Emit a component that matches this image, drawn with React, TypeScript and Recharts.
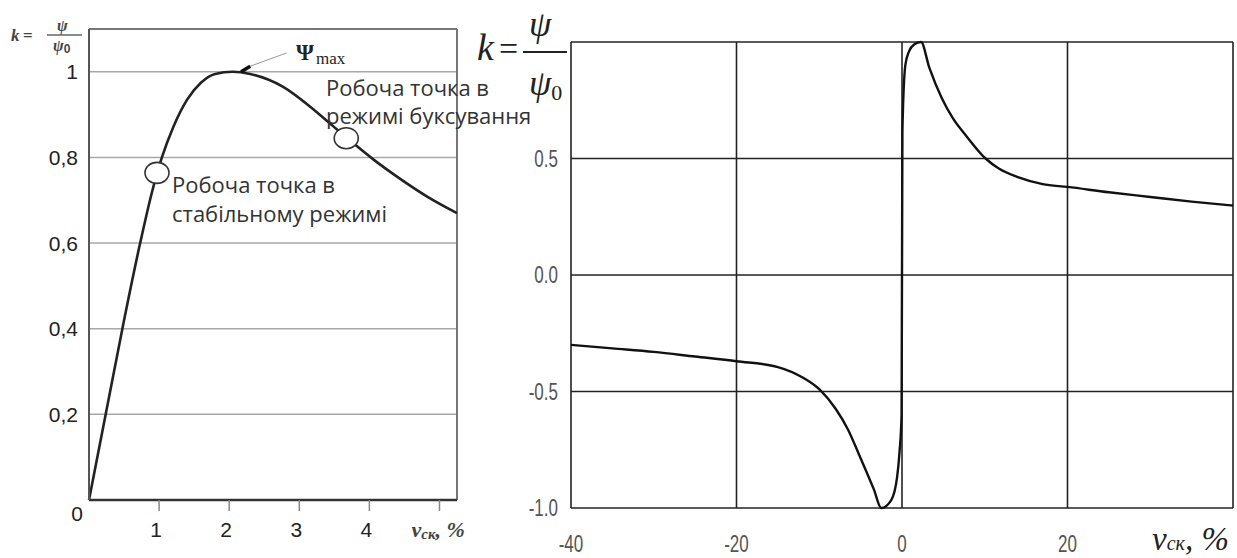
import React from 'react';
import { LineChart, Line, XAxis, YAxis, CartesianGrid, ReferenceLine, ReferenceDot } from 'recharts';

// ---------- Left chart: k = psi/psi0 vs slip (0..5.25 %) ----------
const leftSlip = [0, 0.25, 0.5, 0.73, 0.9, 1.04, 1.2, 1.4, 1.6, 1.8, 2.05, 2.3, 2.77, 3.16, 3.49, 3.67, 4.06, 4.44, 4.83, 5.25];
const leftK = [0, 0.21, 0.42, 0.6, 0.72, 0.8, 0.87, 0.935, 0.975, 0.995, 1.0, 0.995, 0.965, 0.918, 0.872, 0.847, 0.795, 0.75, 0.708, 0.67];
const leftXTicks = [1, 2, 3, 4, 5];
const leftXTickLabels = ['1', '2', '3', '4', ''];
const leftYTicks = [0, 0.2, 0.4, 0.6, 0.8, 1];
const leftYTickLabels = ['0', '0,2', '0,4', '0,6', '0,8', '1'];
const stablePoint = { x: 0.97, k: 0.764 };
const slipPoint = { x: 3.67, k: 0.845 };
const psiMaxArrowFrom = { x: 2.23, k: 1.009 };
const psiMaxArrowTo = { x: 2.82, k: 1.044 };
const psiMaxHeadFrom = { x: 2.17, k: 1.0 };
const psiMaxHeadTo = { x: 2.3, k: 1.013 };

// ---------- Right chart: k vs slip (-40..40 %) ----------
const rightSlip = [-40, -35, -30, -25, -20, -15, -12, -10, -8, -6.5, -5.2, -3.4, -2.5, -1.3, -0.6, -0.3, -0.05, 0.05, 0.4, 0.85, 1.5, 2.3, 3.3, 4.8, 6.2, 7.7, 10.1, 11.7, 14, 17, 20, 25, 30, 35, 40];
const rightK = [-0.3, -0.315, -0.33, -0.35, -0.37, -0.395, -0.44, -0.49, -0.575, -0.665, -0.77, -0.92, -1.0, -0.966, -0.87, -0.76, -0.6, 0.62, 0.9, 0.96, 0.99, 1.0, 0.89, 0.76, 0.67, 0.6, 0.5, 0.457, 0.42, 0.39, 0.378, 0.355, 0.335, 0.315, 0.298];
const rightXTicks = [-40, -20, 0, 20, 40];
const rightXTickLabels = ['-40', '-20', '0', '20', ''];
const rightYTicks = [-1, -0.5, 0, 0.5, 1];
const rightYTickLabels = ['-1.0', '-0.5', '0.0', '0.5', ''];

const leftData = leftSlip.map((x, i) => ({ x, k: leftK[i] }));
const rightData = rightSlip.map((x, i) => ({ x, k: rightK[i] }));

const SANS = "'Liberation Sans', Arial, sans-serif";
const SERIF = "'Liberation Serif', 'Times New Roman', serif";
const NOTE = "'Open Sans', 'Noto Sans', sans-serif";

const LeftXTick = (props: any) => {
  const { x, y, payload } = props;
  if (payload.value === 5) {
    return (
      <svg x={x - 28} y={y - 4} width={470 - (x - 28)} height={40} overflow="hidden">
        <text x={0} y={28} fontFamily={SERIF} fontStyle="italic" fontWeight="bold" fontSize={22} fill="#444">
          v<tspan fontSize={15} dy={2}>ск</tspan>
          <tspan dy={-2}>, %</tspan>
        </text>
      </svg>
    );
  }
  return (
    <text x={x - 3} y={y + 24} textAnchor="middle" fontFamily={SANS} fontSize={21} fill="#222">
      {leftXTickLabels[leftXTicks.indexOf(payload.value)] ?? ''}
    </text>
  );
};

const LeftYTick = (props: any) => {
  const { x, y, payload } = props;
  const i = leftYTicks.indexOf(payload.value);
  const label = i >= 0 ? leftYTickLabels[i] : '';
  const isZero = payload.value === 0;
  return (
    <text x={isZero ? x + 5 : x} y={isZero ? y + 13 : y} dy="0.36em" textAnchor="end" fontFamily={SANS} fontSize={21} fill="#222">
      {label}
    </text>
  );
};

const RightXTick = (props: any) => {
  const { x, y, payload } = props;
  if (payload.value === 40) {
    return (
      <text x={x - 81} y={y + 42} fontFamily={SERIF} fontStyle="italic" fontSize={33} fill="#222">
        v<tspan fontSize={20}>ск</tspan>
        <tspan>, %</tspan>
      </text>
    );
  }
  const i = rightXTicks.indexOf(payload.value);
  return (
    <text transform={`translate(${x},${y + 44}) scale(0.74,1)`} textAnchor="middle" fontFamily={SANS} fontSize={23} fill="#555">
      {i >= 0 ? rightXTickLabels[i] : ''}
    </text>
  );
};

const RightYTick = (props: any) => {
  const { x, y, payload } = props;
  const i = rightYTicks.indexOf(payload.value);
  return (
    <text transform={`translate(${x},${y}) scale(0.74,1)`} dy="0.36em" textAnchor="end" fontFamily={SANS} fontSize={23} fill="#555">
      {i >= 0 ? rightYTickLabels[i] : ''}
    </text>
  );
};

const circleShape = (p: any) => (
  <ellipse cx={p.cx} cy={p.cy} rx={12} ry={10.5} fill="#fff" stroke="#333" strokeWidth={1.6} />
);

export default function App() {
  return (
    <div style={{ position: 'absolute', left: 0, top: 0, width: 1237, height: 558, background: '#fff', overflow: 'hidden' }}>
      <div style={{ position: 'absolute', left: 0, top: 0 }}>
        <LineChart width={470} height={558} data={leftData} margin={{ top: 29, right: 13, bottom: 0, left: 0 }}>
          <CartesianGrid vertical={false} stroke="#a8a8a8" strokeWidth={1.5} />
          <XAxis
            type="number"
            dataKey="x"
            domain={[0, 5.25]}
            ticks={leftXTicks}
            interval={0}
            height={58}
            tickSize={11}
            tickMargin={2}
            axisLine={{ stroke: '#333', strokeWidth: 2.5 }}
            tickLine={{ stroke: '#888', strokeWidth: 1.5 }}
            tick={(p: any) => <LeftXTick {...p} />}
          />
          <YAxis
            type="number"
            domain={[0, 1.1]}
            ticks={leftYTicks}
            interval={0}
            width={89}
            tickSize={0}
            tickMargin={11}
            axisLine={{ stroke: '#555', strokeWidth: 2 }}
            tickLine={false}
            tick={(p: any) => <LeftYTick {...p} />}
          />
          <ReferenceLine y={1.1} stroke="#777" strokeWidth={2} />
          <ReferenceLine x={5.25} stroke="#777" strokeWidth={2} />
          <ReferenceLine segment={[psiMaxArrowFrom, psiMaxArrowTo].map((p) => ({ x: p.x, y: p.k }))} stroke="#999" strokeWidth={1} />
          <Line dataKey="k" type="monotone" stroke="#222" strokeWidth={2.6} dot={false} isAnimationActive={false} />
          <ReferenceLine segment={[psiMaxHeadFrom, psiMaxHeadTo].map((p) => ({ x: p.x, y: p.k }))} stroke="#111" strokeWidth={3.5} />
          <ReferenceDot x={stablePoint.x} y={stablePoint.k} r={11} shape={circleShape} />
          <ReferenceDot x={slipPoint.x} y={slipPoint.k} r={11} shape={circleShape} />
        </LineChart>
      </div>

      <div style={{ position: 'absolute', left: 470, top: 0 }}>
        <LineChart width={767} height={558} data={rightData} margin={{ top: 42, right: 4, bottom: 0, left: 0 }}>
          <CartesianGrid stroke="#222" strokeWidth={1.6} />
          <XAxis
            type="number"
            dataKey="x"
            domain={[-40, 40]}
            ticks={rightXTicks}
            interval={0}
            height={50}
            tickSize={0}
            tickMargin={0}
            axisLine={false}
            tickLine={false}
            tick={(p: any) => <RightXTick {...p} />}
          />
          <YAxis
            type="number"
            domain={[-1, 1]}
            ticks={rightYTicks}
            interval={0}
            width={101}
            tickSize={0}
            tickMargin={13}
            axisLine={false}
            tickLine={false}
            tick={(p: any) => <RightYTick {...p} />}
          />
          <Line dataKey="k" type="monotone" stroke="#111" strokeWidth={2.4} dot={false} isAnimationActive={false} />
        </LineChart>
      </div>

      <svg width={1237} height={558} style={{ position: 'absolute', left: 0, top: 0, pointerEvents: 'none' }}>
        {/* left y label */}
        <g fontFamily={SERIF} fontStyle="italic" fontWeight="bold" fill="#444">
          <text x={11} y={41} fontSize={17}>k</text>
          <text x={23} y={41} fontSize={17} fontStyle="normal">=</text>
          <text x={57} y={31} fontSize={16}>ψ</text>
          <line x1={47} y1={35} x2={82} y2={35} stroke="#666" strokeWidth={1.5} />
          <text x={53} y={51} fontSize={16}>ψ<tspan fontSize={12} fontStyle="normal" fontFamily={SANS} dy={2}>0</tspan></text>
        </g>
        {/* psi max */}
        <text x={296} y={60} fontFamily={SERIF} fontWeight="bold" fontSize={23} fill="#222">Ψ</text>
        <text x={316} y={64} fontFamily={SERIF} fontSize={17} fill="#222">max</text>
        {/* operating points */}
        <g fontFamily={NOTE} fontSize={22} fill="#333">
          <text x={326} y={96}>Робоча точка в</text>
          <text x={326} y={124}>режимі буксування</text>
          <text x={172} y={193}>Робоча точка в</text>
          <text x={172} y={222}>стабільному режимі</text>
        </g>
        {/* right y label */}
        <g fontFamily={SERIF} fill="#222">
          <text x={477} y={60} fontSize={38} fontStyle="italic">k</text>
          <text x={499} y={60} fontSize={34}>=</text>
          <text x={529} y={36} fontSize={36} fontStyle="italic">ψ</text>
          <line x1={523} y1={52} x2={567} y2={52} stroke="#222" strokeWidth={2} />
          <text x={529} y={95} fontSize={36} fontStyle="italic">ψ<tspan fontSize={22} fontStyle="normal" dy={5}>0</tspan></text>
        </g>
      </svg>
    </div>
  );
}
